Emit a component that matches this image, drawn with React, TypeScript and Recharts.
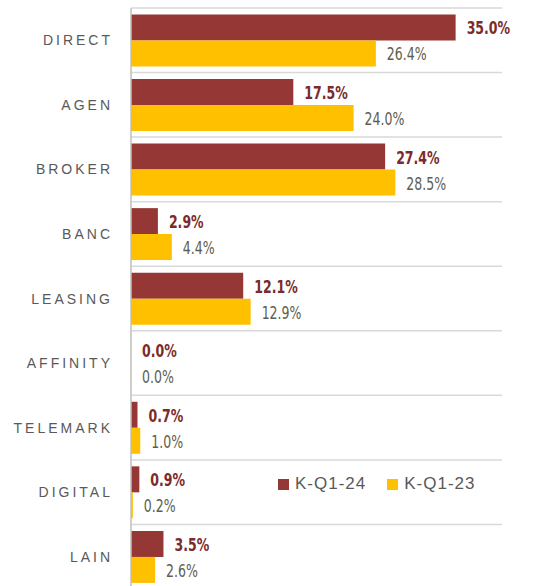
import { Bar, BarChart, CartesianGrid, LabelList, XAxis, YAxis } from "recharts";

const CHANNELS = ["DIRECT", "AGEN", "BROKER", "BANC", "LEASING", "AFFINITY", "TELEMARK", "DIGITAL", "LAIN"];
const Q1_24 = [35.0, 17.5, 27.4, 2.9, 12.1, 0.0, 0.7, 0.9, 3.5];
const Q1_23 = [26.4, 24.0, 28.5, 4.4, 12.9, 0.0, 1.0, 0.2, 2.6];
const SERIES = ["K-Q1-24", "K-Q1-23"];

const RED = "#953735";
const GOLD = "#FFC000";

const rows = CHANNELS.map((c, i) => ({ channel: c, q24: Q1_24[i], q23: Q1_23[i] }));

function ChannelTick({ x, y, payload }: any) {
  return (
    <text
      x={x - 10}
      y={y}
      textAnchor="end"
      dominantBaseline="central"
      fill="#595959"
      fontSize={14}
      letterSpacing={3}
      fontFamily="'Liberation Sans', Arial, sans-serif"
    >
      {payload.value}
    </text>
  );
}

// condensed value labels (squeezed horizontally like the original's narrow face)
const makeLabel = (color: string, bold: boolean) => (props: any) => {
  const { x, y, width, height, value } = props;
  const tx = x + Math.max(width, 0) + 11;
  const ty = y + height / 2 + 1.5;
  return (
    <text
      transform={`translate(${tx},${ty}) scale(0.82,1)`}
      x={0}
      y={0}
      dominantBaseline="central"
      fill={color}
      fontSize={17}
      fontWeight={bold ? 700 : 400}
      fontFamily="'DejaVu Sans Condensed', 'DejaVu Sans', sans-serif"
      style={{ fontStretch: "condensed" }}
    >
      {Number(value).toFixed(1)}%
    </text>
  );
};

function LegendBox() {
  const item = (color: string, text: string) => (
    <span key={text} style={{ display: "inline-flex", alignItems: "center", marginRight: 21 }}>
      <span style={{ width: 11, height: 11, background: color, display: "inline-block", marginRight: 6 }} />
      <span style={{ color: "#595959", fontSize: 17, letterSpacing: 1 }}>{text}</span>
    </span>
  );
  return (
    <div
      style={{
        position: "absolute",
        left: 278,
        top: 474,
        display: "flex",
        fontFamily: "'Liberation Sans', Arial, sans-serif",
        whiteSpace: "nowrap",
      }}
    >
      {item(RED, SERIES[0])}
      {item(GOLD, SERIES[1])}
    </div>
  );
}

export default function App() {
  return (
    <div style={{ position: "absolute", left: 0, top: 0, width: 535, height: 586, overflow: "hidden", background: "#fff" }}>
      <BarChart
        width={535}
        height={589}
        data={rows}
        layout="vertical"
        margin={{ top: 8, right: 33, bottom: 0, left: 0 }}
        barCategoryGap="10%"
        barGap={0}
      >
        <CartesianGrid
          vertical={false}
          stroke="#d9d9d9"
          strokeWidth={1.5}
          horizontalCoordinatesGenerator={({ offset }: any) =>
            CHANNELS.map((_, i) => offset.top + (i * offset.height) / CHANNELS.length).concat(offset.top + offset.height)
          }
        />
        <XAxis type="number" domain={[0, 40]} hide />
        <YAxis
          type="category"
          dataKey="channel"
          width={131}
          tickLine={false}
          axisLine={{ stroke: "#bfbfbf", strokeWidth: 1.5 }}
          tick={<ChannelTick />}
        />
        <Bar dataKey="q24" name={SERIES[0]} fill={RED} minPointSize={0.01} isAnimationActive={false}>
          <LabelList dataKey="q24" content={makeLabel("#7B2B2B", true)} />
        </Bar>
        <Bar dataKey="q23" name={SERIES[1]} fill={GOLD} minPointSize={0.01} isAnimationActive={false}>
          <LabelList dataKey="q23" content={makeLabel("#5E5E4E", false)} />
        </Bar>
      </BarChart>
      <LegendBox />
    </div>
  );
}
